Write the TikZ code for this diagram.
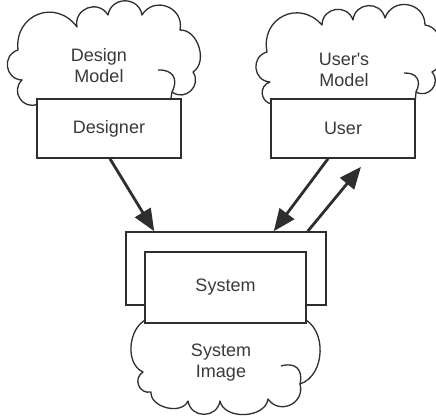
\documentclass[tikz,border=0pt]{standalone}
\usepackage{fontspec}
\newfontfamily\plainsans{Liberation Sans}
\usetikzlibrary{arrows.meta}
\definecolor{ink}{HTML}{2E2E2E}
\definecolor{txt}{HTML}{3A3A3A}
\tikzset{
  cloudline/.style={draw=ink, line width=1.3pt, fill=white, line join=round},
  lobe/.style={bend left=#1, looseness=1.45},
  lobe/.default=80,
  flatlobe/.style={bend left=#1, looseness=1.05},
  flatlobe/.default=80,
  curl/.style={draw=ink, line width=1.3pt},
  panel/.style={draw=ink, line width=1.6pt, fill=white, minimum width=#1, inner sep=0pt},
  label/.style={text=txt, font=\plainsans\fontsize{18}{21}\selectfont, align=center, inner sep=0pt},
  flow/.style={draw=ink, line width=2.8pt, -{Triangle[length=22pt,width=18pt]}}
}
\begin{document}
\begin{tikzpicture}[x=1pt,y=-1pt]
  \useasboundingbox[fill=white] (0,0) rectangle (436,418);

  % cloud around the design model
  \path[cloudline] (38,104) to[lobe] (22,80) to[lobe] (18,50) to[lobe=75] (77,27)
    to[lobe] (108,15) to[lobe] (142,15) to[lobe] (180,30) to[flatlobe=75] (193,72)
    to[lobe] (172,92) -- (170,104) -- cycle;
  \path[curl] (158,70) to[lobe=60] (172,92);

  % cloud around the user's model
  \path[cloudline] (273,104) to[lobe] (270,82) to[lobe] (267,52) to[lobe=75] (322,25)
    to[lobe] (353,20) to[lobe] (385,18) to[lobe] (425,25) to[flatlobe=75] (432,72)
    to[lobe] (416,92) -- (415,104) -- cycle;
  \path[curl] (404,73) to[lobe=60] (416,92);

  % cloud of the system image
  \path[cloudline] (302,318) to[flatlobe=70] (300,384) to[lobe] (268,399) to[flatlobe] (220,401)
    to[lobe] (188,401) to[flatlobe] (151,392) to[lobe] (143,372) to[flatlobe=75] (152,318) -- cycle;
  \path[curl] (281,366) to[lobe=60] (300,384);

  % boxes
  \node[panel=144pt, minimum height=59pt] (designer) at (109,128.5) {};
  \node[panel=144pt, minimum height=59pt] (user) at (343,128.5) {};
  \node[panel=200pt, minimum height=73pt] (outer) at (226,268.5) {};
  \node[panel=161pt, minimum height=71pt] (system) at (225.5,287.5) {};

  % texts
  \node[label] (tdm) at (99,66) {Design\\Model};
  \node[label] (tdesigner) at (designer) {Designer};
  \node[label] (tum) at (344,70) {User's\\Model};
  \node[label] (tuser) at (user) {User};
  \node[label] (tsys) at (system) {System};
  \node[label] (tsi) at (221,363) {System\\Image};

  % arrows
  \draw[flow] ([xshift=1pt]designer.south) -- ([xshift=29pt]outer.north west);
  \draw[flow] ([xshift=-15pt]user.south) -- ([xshift=-53pt]outer.north east);
  \draw[flow] ([xshift=-19pt]outer.north east) -- ([xshift=18pt,yshift=-8pt]user.south);
\end{tikzpicture}
\end{document}
